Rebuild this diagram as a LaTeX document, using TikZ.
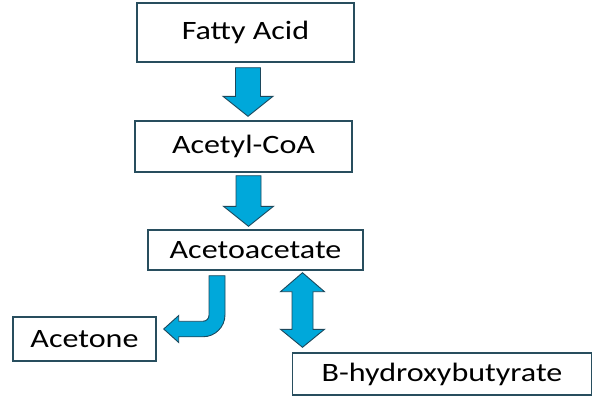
\documentclass[tikz,border=0pt]{standalone}
\usepackage{fontspec}
\setmainfont{Carlito}[FakeStretch=1.21]
\usetikzlibrary{calc}
\definecolor{arrfill}{RGB}{0,168,218}
\definecolor{arrline}{RGB}{28,72,92}
\definecolor{boxline}{RGB}{40,78,94}

\newcommand{\downblock}[2]{%
  \filldraw[blk] let \p1=#1, \p2=#2 in
    (\x1-12.5pt,\y1) -- (\x1+12.5pt,\y1) -- (\x1+12.5pt,\y2+20pt)
    -- (\x1+25pt,\y2+20pt) -- (\x1,\y2) -- (\x1-25pt,\y2+20pt)
    -- (\x1-12.5pt,\y2+20pt) -- cycle;}
\newcommand{\bothblock}[2]{%
  \filldraw[blk] let \p1=#1, \p2=#2 in
    (\x1,\y1) -- (\x1+22pt,\y1-19pt) -- (\x1+10.5pt,\y1-19pt)
    -- (\x1+10.5pt,\y2+18pt) -- (\x1+22pt,\y2+18pt) -- (\x1,\y2)
    -- (\x1-22pt,\y2+18pt) -- (\x1-10.5pt,\y2+18pt)
    -- (\x1-10.5pt,\y1-19pt) -- (\x1-22pt,\y1-19pt) -- cycle;}

\begin{document}
\begin{tikzpicture}[
    x=1pt, y=1pt,
    every node/.style={font=\fontsize{26.5}{30}\selectfont},
    bx/.style={rectangle, draw=boxline, line width=1.4pt, inner sep=0pt},
    blk/.style={fill=arrfill, draw=arrline, line width=0.9pt, line join=miter},
  ]
  \useasboundingbox (0,0) rectangle (598,-408);
  \node[bx, minimum width=217pt, minimum height=59pt] (fa) at (245.5,-32.5) {Fatty Acid};
  \node[bx, minimum width=217pt, minimum height=51pt] (acoa) at (243.5,-146.5) {Acetyl-CoA};
  \node[bx, minimum width=215pt, minimum height=40pt] (aca) at (255.5,-250) {Acetoacetate};
  \node[bx, minimum width=143pt, minimum height=44pt] (acet) at (84.5,-339) {Acetone};
  \node[bx, minimum width=299pt, minimum height=42pt] (bhb) at (442,-374) {B-hydroxybutyrate};
  \downblock{($(fa.south)+(2.5,-5)$)}{($(acoa.north)+(2.5,4)$)}
  \downblock{($(acoa.south)+(5,-3)$)}{($(aca.north)+(-7,3)$)}
  \bothblock{($(aca.south)+(47,-2)$)}{($(bhb.north -| aca.south)+(47,5)$)}
  \filldraw[blk] let \p1=($(aca.south)+(-38.5,-5)$), \p2=($(acet.east)+(7,10)$) in
    (\x1-8pt,\y1) -- (\x1+8pt,\y1) -- (\x1+8pt,\y2+14.25pt)
    arc[start angle=0, end angle=-90, radius=22pt]
    -- (\x2+15pt,\y2-7.75pt) -- (\x2+15pt,\y2-13.5pt) -- (\x2,\y2)
    -- (\x2+15pt,\y2+13.5pt) -- (\x2+15pt,\y2+7.75pt) -- (\x1-14pt,\y2+7.75pt)
    arc[start angle=-90, end angle=0, radius=6pt] -- cycle;
\end{tikzpicture}
\end{document}
